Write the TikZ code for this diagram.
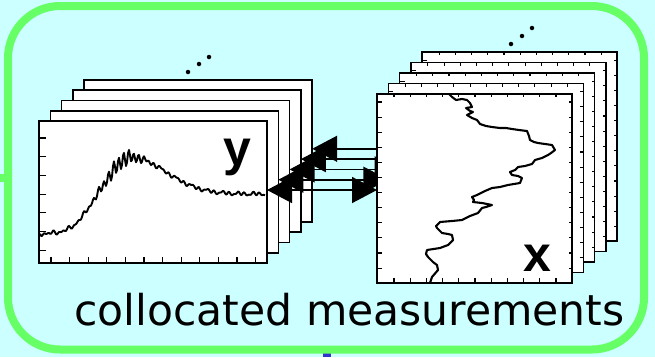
\documentclass[tikz,border=0pt]{standalone}
\usepackage{fontspec}
\setmainfont{DejaVu Sans}
\newfontfamily\lblfont{Liberation Sans}
\usetikzlibrary{arrows.meta}
\definecolor{bgc}{HTML}{CCFFFF}
\definecolor{brd}{HTML}{66FF66}
\definecolor{blu}{HTML}{3333CC}
\pgfdeclarelayer{bgl}
\pgfdeclarelayer{arl}
\pgfsetlayers{bgl,arl,main}
\tikzset{
 framebox/.style={draw=black, fill=white, line width=1.6pt, inner sep=0pt, outer sep=0pt, anchor=north west},
 tickmark/.style={line width=1.1pt},
 curve/.style={line width=1.9pt, line join=round},
 link/.style={line width=1.6pt, {Triangle[length=25pt,width=26pt]}-{Triangle[length=25pt,width=26pt]}},
 dotmark/.style={fill=black, circle, inner sep=0pt, minimum size=4.5pt},
 biglabel/.style={anchor=base, inner sep=0pt, font=\lblfont\bfseries\fontsize{50}{50}\selectfont},
}
\newcommand\myLframe[1]{%
\begin{scope}[shift={(11.3*#1,-10.3*#1)}]
\node[framebox, minimum width=228pt, minimum height=142pt] (L#1) at (39,121) {};
\foreach \k in {0,...,6} \draw[tickmark] (39,138+18.7*\k) -- ++(7,0);
\foreach \k in {0,...,11} \draw[tickmark] (51+18.6*\k,263) -- ++(0,-6);
\end{scope}}
\newcommand\myRframe[1]{%
\begin{scope}[shift={(11.3*#1,-10.45*#1)}]
\node[framebox, minimum width=195pt, minimum height=189pt] (R#1) at (377,94) {};
\foreach \k in {0,...,11} {\draw[tickmark] (377,102+15.1*\k) -- ++(5,0); \draw[tickmark] (572,102+15.1*\k) -- ++(-3,0);}
\foreach \k in {0,...,10} {\draw[tickmark] (394+16.2*\k,283) -- ++(0,-5); \draw[tickmark] (394+16.2*\k,94) -- ++(0,3);}
\end{scope}}
\begin{document}
\begin{tikzpicture}[x=1pt,y=-1pt]
\useasboundingbox (0,0) rectangle (655,357);
\begin{pgfonlayer}{bgl}
\fill[bgc] (0,0) rectangle (655,357);
\fill[blu] (323,350) rectangle (331,357);
\fill[brd] (0,174) rectangle (6,182);
\draw[brd, line width=8pt, rounded corners=52pt] (8,6) rectangle (644,349.5);
\foreach \i in {4,3,2,1,0} {\myLframe{\i}}
\draw[curve] plot[domain=40:265, samples=226]
 (\x, {194 + 40/(1+exp(min((\x-86)/9,9))) - 37*exp(-((\x-130)/((\x<130) ? 27 : 50))^2) + (1.0+6.5*exp(-((\x-120)/20)^2))*sin(72*(\x-40)) + 1.1*sin(47*(\x-40)) + 0.8*sin(23*(\x-40))});
\node[biglabel] (ylab) at (237.5,165) {y};
\node[dotmark] (ld1) at (188,72) {};
\node[dotmark] (ld2) at (199,64) {};
\node[dotmark] (ld3) at (209,57) {};
\end{pgfonlayer}
\foreach \i in {4,3,2,1,0} {\myRframe{\i}}
\draw[curve, line width=2.1pt] plot coordinates {(449,94) (452,97) (456,100) (462,99) (467,100) (470,103) (472,107) (466,108) (470,111) (473,112) (467,115) (472,118) (477,120) (480,124) (486,126) (492,127) (500,128) (506,128) (512,129) (519,130) (527,131) (529,136) (530,140) (534,142) (538,143) (545,144) (552,145) (555,150) (551,153) (548,155) (542,158) (535,160) (532,164) (525,166) (518,167) (515,170) (510,172) (512,175) (518,176) (522,178) (520,183) (514,184) (508,185) (500,187) (492,188) (485,191) (477,195) (472,197) (474,200) (473,202) (482,203) (492,205) (486,207) (482,208) (478,213) (470,216) (462,220) (452,221) (440,222) (436,226) (437,228) (442,233) (448,234) (452,235) (453,240) (448,245) (440,248) (427,250) (426,254) (428,257) (433,262) (437,265) (438,270) (432,277) (430,283)};
\node[biglabel] (xlab) at (537.5,271) {x};
\node[dotmark] (rd1) at (511,44) {};
\node[dotmark] (rd2) at (522,36) {};
\node[dotmark] (rd3) at (532,28) {};
\begin{pgfonlayer}{arl}
\foreach \i in {0,...,4} {\draw[link] ([yshift=2pt]L\i.east) -- ([yshift=2pt]L\i.east -| R\i.west);}
\end{pgfonlayer}
\node[anchor=base, inner sep=0pt, font=\fontsize{42.5}{42.5}\selectfont] (cap) at (349.5,325) {collocated measurements};
\end{tikzpicture}
\end{document}
